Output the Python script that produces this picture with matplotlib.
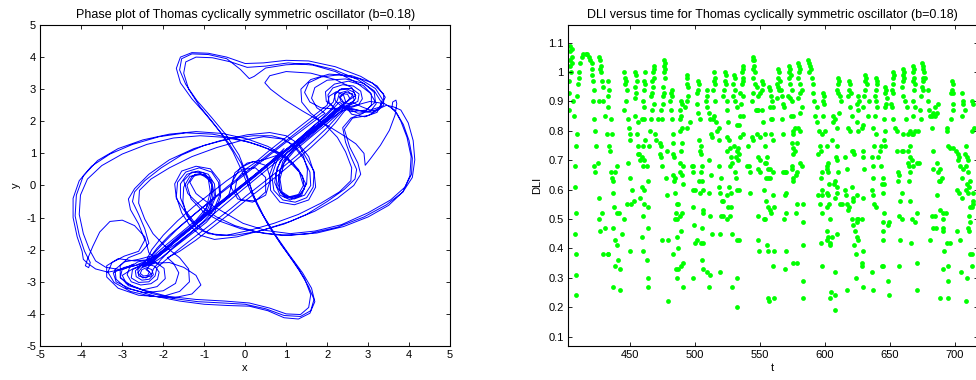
import matplotlib.pyplot as plt

plt.rcParams['font.family'] = ['Liberation Sans', 'DejaVu Sans']
plt.rcParams['font.size'] = 8
plt.rcParams['axes.unicode_minus'] = False

# phase plot: path (x, y)
trajectory = [
    # lower-left inner spiral
    (-2.42, -2.62), (-2.34, -2.7), (-2.38, -2.8), (-2.48, -2.82), (-2.56, -2.74), (-2.52, -2.62), (-2.4, -2.56),
    (-2.28, -2.62), (-2.24, -2.78), (-2.34, -2.92), (-2.52, -2.95), (-2.66, -2.84), (-2.68, -2.66), (-2.56, -2.5),
    (-2.38, -2.45), (-2.2, -2.52), (-2.1, -2.7), (-2.14, -2.92), (-2.3, -3.06), (-2.55, -3.1), (-2.78, -3.0),
    (-2.88, -2.78), (-2.82, -2.55), (-2.62, -2.38), (-2.38, -2.32),
    # diagonal up
    (-2.1, -2.12), (-1.7, -1.72), (-1.3, -1.32), (-0.9, -0.9), (-0.5, -0.48), (-0.1, -0.05), (0.3, 0.36),
    (0.7, 0.78), (1.1, 1.2), (1.5, 1.62), (1.85, 1.98), (2.15, 2.28), (2.35, 2.5),
    # upper-right inner spiral
    (2.48, 2.6), (2.55, 2.72), (2.5, 2.84), (2.38, 2.86), (2.3, 2.76), (2.34, 2.62), (2.46, 2.54), (2.62, 2.58),
    (2.7, 2.72), (2.66, 2.9), (2.5, 3.0), (2.3, 2.98), (2.18, 2.84), (2.2, 2.64), (2.34, 2.48), (2.56, 2.42),
    (2.76, 2.5), (2.86, 2.7), (2.82, 2.94), (2.64, 3.1), (2.38, 3.14), (2.14, 3.04), (2.02, 2.82), (2.05, 2.58),
    (2.2, 2.38),
    # diagonal down
    (2.0, 2.12), (1.7, 1.8), (1.35, 1.42), (0.95, 1.02), (0.55, 0.6), (0.15, 0.18), (-0.25, -0.22), (-0.65, -0.62),
    (-1.05, -1.02), (-1.45, -1.45), (-1.8, -1.85), (-2.1, -2.2), (-2.28, -2.42),
    # lower-left rings, left side up, upper edge, right lobe
    (-2.4, -2.6), (-2.3, -2.75), (-2.42, -2.88), (-2.6, -2.82), (-2.62, -2.62), (-2.48, -2.42), (-2.2, -2.38),
    (-1.98, -2.58), (-1.95, -2.9), (-2.15, -3.15), (-2.5, -3.25), (-2.85, -3.12), (-3.05, -2.85), (-3.05, -2.5),
    (-2.85, -2.25), (-2.55, -2.1), (-2.35, -1.8), (-2.45, -1.35), (-2.6, -0.9), (-2.75, -0.5), (-2.7, -0.2),
    (-2.45, 0.15), (-2.05, 0.55), (-1.55, 0.95), (-1.0, 1.25), (-0.4, 1.45), (0.2, 1.55), (0.65, 1.55),
    (0.95, 1.45), (1.2, 1.2), (1.42, 0.85), (1.58, 0.42), (1.6, 0.0), (1.45, -0.3), (1.2, -0.42), (0.95, -0.35),
    (0.78, -0.05), (0.75, 0.35), (0.85, 0.75), (1.05, 1.05), (1.35, 1.35), (1.7, 1.72), (2.05, 2.1), (2.3, 2.38),
    # upper-right rings, right side down, lower edge, left lobe
    (2.42, 2.56), (2.32, 2.74), (2.44, 2.9), (2.62, 2.86), (2.66, 2.66), (2.5, 2.44), (2.2, 2.4), (1.98, 2.62),
    (1.96, 2.92), (2.18, 3.16), (2.52, 3.25), (2.88, 3.12), (3.08, 2.85), (3.08, 2.5), (2.88, 2.25), (2.58, 2.1),
    (2.38, 1.8), (2.45, 1.35), (2.58, 0.9), (2.72, 0.5), (2.68, 0.2), (2.42, -0.12), (2.0, -0.5), (1.5, -0.9),
    (0.95, -1.2), (0.35, -1.42), (-0.25, -1.55), (-0.7, -1.55), (-1.0, -1.42), (-1.22, -1.18), (-1.45, -0.8),
    (-1.58, -0.38), (-1.58, 0.05), (-1.42, 0.35), (-1.15, 0.45), (-0.9, 0.35), (-0.75, 0.05), (-0.72, -0.35),
    (-0.85, -0.75), (-1.05, -1.05), (-1.35, -1.38), (-1.7, -1.75), (-2.05, -2.1), (-2.3, -2.4),
    # lower-left outer rings, left side up, upper edge, right lobe
    (-2.5, -2.55), (-2.2, -2.42), (-1.85, -2.4), (-1.5, -2.55), (-1.2, -2.8), (-1.08, -3.1), (-1.3, -3.38),
    (-1.75, -3.5), (-2.3, -3.45), (-2.8, -3.3), (-3.2, -3.02), (-3.35, -2.7), (-3.25, -2.4), (-2.95, -2.2),
    (-2.6, -2.05), (-2.45, -1.7), (-2.6, -1.2), (-2.8, -0.75), (-2.85, -0.42), (-2.7, -0.1), (-2.35, 0.35),
    (-1.85, 0.8), (-1.25, 1.15), (-0.6, 1.4), (0.05, 1.58), (0.6, 1.65), (1.0, 1.55), (1.3, 1.3), (1.55, 0.9),
    (1.68, 0.4), (1.66, -0.05), (1.5, -0.38), (1.22, -0.52), (0.92, -0.45), (0.7, -0.15), (0.65, 0.3), (0.78, 0.8),
    (1.0, 1.12), (1.3, 1.42), (1.62, 1.75), (1.95, 2.05), (2.25, 2.3),
    # upper-right outer rings, right side down, lower edge, left lobe
    (2.5, 2.5), (2.2, 2.38), (1.85, 2.42), (1.58, 2.6), (1.45, 2.9), (1.55, 3.2), (1.85, 3.38), (2.3, 3.45),
    (2.8, 3.32), (3.18, 3.02), (3.35, 2.68), (3.28, 2.38), (3.0, 2.18), (2.62, 2.1), (2.42, 1.75), (2.55, 1.2),
    (2.75, 0.7), (2.82, 0.35), (2.65, 0.0), (2.25, -0.4), (1.7, -0.8), (1.1, -1.12), (0.45, -1.38), (-0.2, -1.6),
    (-0.75, -1.68), (-1.1, -1.55), (-1.35, -1.25), (-1.55, -0.85), (-1.68, -0.35), (-1.65, 0.1), (-1.45, 0.42),
    (-1.12, 0.55), (-0.82, 0.42), (-0.65, 0.1), (-0.62, -0.3), (-0.78, -0.8), (-1.02, -1.12), (-1.32, -1.45),
    (-1.65, -1.78), (-1.98, -2.08), (-2.28, -2.35),
    # bottom loop, centre, top loop
    (-2.62, -2.48), (-2.95, -2.55), (-3.22, -2.72), (-3.15, -3.0), (-2.8, -3.22), (-2.2, -3.45), (-1.6, -3.6),
    (-1.0, -3.7), (-0.4, -3.74), (0.1, -3.76), (0.55, -3.9), (0.95, -4.12), (1.3, -4.16), (1.58, -3.98),
    (1.7, -3.62), (1.62, -3.2), (1.4, -2.72), (1.1, -2.2), (0.78, -1.62), (0.45, -0.95), (0.2, -0.3), (0.05, 0.3),
    (-0.15, 0.95), (-0.45, 1.55), (-0.82, 2.12), (-1.18, 2.65), (-1.45, 3.15), (-1.6, 3.6), (-1.55, 3.95),
    (-1.3, 4.1), (-0.9, 4.08), (-0.45, 3.95), (-0.12, 3.62), (0.1, 3.33), (0.22, 3.4), (0.5, 3.66), (1.0, 3.76),
    (1.55, 3.8), (2.15, 3.62), (2.75, 3.3), (3.15, 2.95), (3.33, 2.58), (3.22, 2.28), (2.92, 2.14), (2.6, 2.22),
    (2.45, 2.45),
    # top loop, centre, bottom loop (second pass)
    (2.6, 2.6), (2.85, 2.45), (3.05, 2.35), (3.3, 2.45), (3.42, 2.75), (3.22, 3.1), (2.82, 3.4), (2.2, 3.7),
    (1.55, 3.88), (1.0, 3.9), (0.45, 3.82), (0.0, 3.8), (-0.45, 4.0), (-0.9, 4.12), (-1.3, 4.14), (-1.58, 4.0),
    (-1.68, 3.65), (-1.58, 3.2), (-1.3, 2.7), (-0.95, 2.2), (-0.6, 1.65), (-0.3, 1.05), (-0.08, 0.45),
    (0.12, -0.15), (0.35, -0.75), (0.65, -1.4), (1.0, -2.05), (1.32, -2.65), (1.55, -3.15), (1.68, -3.55),
    (1.6, -3.9), (1.35, -4.08), (0.95, -4.05), (0.5, -3.84), (0.0, -3.7), (-0.55, -3.66), (-1.15, -3.62),
    (-1.75, -3.52), (-2.3, -3.36), (-2.75, -3.14), (-3.05, -2.88), (-3.0, -2.6), (-2.72, -2.45),
    # outer upper-left band
    (-2.95, -2.6), (-3.35, -2.7), (-3.65, -2.6), (-3.85, -2.42), (-3.95, -2.3), (-3.98, -2.05), (-4.1, -1.6),
    (-4.2, -1.0), (-4.2, -0.4), (-4.05, 0.15), (-3.75, 0.6), (-3.3, 0.98), (-2.75, 1.28), (-2.1, 1.52),
    (-1.45, 1.64), (-0.8, 1.6), (-0.2, 1.45), (0.35, 1.25), (0.8, 1.02), (1.15, 0.72), (1.4, 0.3), (1.45, -0.1),
    (1.28, -0.35), (1.02, -0.38), (0.85, -0.15), (0.82, 0.3), (0.92, 0.75), (1.15, 1.1), (1.5, 1.5), (1.88, 1.92),
    (2.2, 2.25),
    # inner top strand, spike, right hook, outer right band
    (2.4, 2.55), (2.7, 2.8), (2.6, 3.05), (2.2, 3.3), (1.6, 3.5), (1.0, 3.55), (0.6, 3.42), (0.48, 3.2),
    (0.62, 3.0), (0.95, 2.68), (1.4, 2.32), (1.9, 1.95), (2.35, 1.6), (2.7, 1.3), (2.9, 1.0), (2.93, 0.63),
    (3.05, 0.82), (3.3, 1.25), (3.52, 1.72), (3.66, 2.2), (3.7, 2.55), (3.68, 2.66), (3.6, 2.6), (3.58, 2.4),
    (3.7, 2.25), (3.86, 1.9), (4.0, 1.4), (4.08, 0.85), (4.06, 0.35), (3.9, -0.05), (3.55, -0.45), (3.0, -0.85),
    (2.35, -1.22), (1.7, -1.42), (1.1, -1.5), (0.5, -1.4), (-0.05, -1.18), (-0.5, -0.85), (-0.9, -0.55),
    (-1.2, -0.25), (-1.35, 0.1), (-1.22, 0.35), (-0.98, 0.32), (-0.82, 0.05), (-0.8, -0.4), (-0.95, -0.85),
    (-1.2, -1.2), (-1.55, -1.55), (-1.9, -1.92), (-2.2, -2.25),
    # lower-left bump and tip, outer upper-left band again
    (-2.35, -2.1), (-2.45, -1.6), (-2.7, -1.25), (-3.0, -1.08), (-3.3, -1.12), (-3.55, -1.45), (-3.72, -1.9),
    (-3.85, -2.3), (-3.9, -2.5), (-3.82, -2.56), (-3.78, -2.4), (-3.92, -2.05), (-4.05, -1.55), (-4.15, -0.95),
    (-4.12, -0.3), (-3.95, 0.3), (-3.6, 0.78), (-3.1, 1.15), (-2.5, 1.42), (-1.85, 1.6), (-1.2, 1.68),
    (-0.55, 1.62), (0.05, 1.45), (0.55, 1.22), (1.0, 0.9), (1.3, 0.5), (1.48, 0.05), (1.38, -0.3), (1.1, -0.45),
    (0.85, -0.3), (0.72, 0.1), (0.78, 0.55), (0.98, 0.98), (1.3, 1.32), (1.7, 1.7), (2.05, 2.05), (2.35, 2.32),
    # outer right band again
    (2.6, 2.4), (2.9, 2.3), (3.2, 2.35), (3.45, 2.5), (3.62, 2.45), (3.8, 2.35), (3.98, 1.95), (4.1, 1.4),
    (4.14, 0.8), (4.08, 0.25), (3.85, -0.2), (3.45, -0.6), (2.9, -0.98), (2.25, -1.3), (1.55, -1.5), (0.9, -1.56),
    (0.3, -1.45), (-0.25, -1.25), (-0.7, -0.98), (-1.08, -0.65), (-1.4, -0.25), (-1.5, 0.15), (-1.3, 0.42),
    (-1.02, 0.4), (-0.82, 0.15), (-0.75, -0.3), (-0.88, -0.78), (-1.12, -1.12), (-1.5, -1.5), (-1.88, -1.88),
    (-2.2, -2.22), (-2.45, -2.48),
    # centre rings
    (-2.2, -2.3), (-1.95, -1.98), (-1.55, -1.55), (-1.15, -1.1), (-0.75, -0.7), (-0.4, -0.3), (-0.3, 0.15),
    (-0.12, 0.55), (0.2, 0.75), (0.52, 0.62), (0.62, 0.2), (0.5, -0.3), (0.18, -0.52), (-0.18, -0.42),
    (-0.35, -0.05), (-0.25, 0.4), (0.05, 0.7), (0.45, 0.8), (0.8, 0.95), (1.2, 1.3), (1.6, 1.68), (1.95, 2.02),
    (2.25, 2.35),
    # more diagonal strands
    (2.5, 2.62), (2.62, 2.8), (2.5, 2.95), (2.3, 2.88), (2.25, 2.65), (2.1, 2.38), (1.8, 2.0), (1.4, 1.55),
    (1.0, 1.12), (0.6, 0.72), (0.2, 0.3), (-0.2, -0.12), (-0.6, -0.55), (-1.0, -0.98), (-1.4, -1.4),
    (-1.75, -1.78), (-2.05, -2.12), (-2.25, -2.38), (-2.5, -2.52), (-2.62, -2.72), (-2.5, -2.88), (-2.3, -2.82),
    (-2.24, -2.6), (-2.05, -2.3), (-1.75, -1.92), (-1.35, -1.5), (-0.95, -1.08), (-0.55, -0.65), (-0.15, -0.22),
    (0.25, 0.2), (0.65, 0.62), (1.05, 1.05), (1.45, 1.48), (1.8, 1.85), (2.1, 2.2), (2.32, 2.45),
    # upper-right ring, diagonal down (upper side of the bundle)
    (2.6, 2.3), (2.95, 2.35), (3.18, 2.6), (3.15, 2.9), (2.9, 3.18), (2.45, 3.32), (2.0, 3.28), (1.7, 3.05),
    (1.62, 2.72), (1.75, 2.42), (1.95, 2.25), (1.7, 2.02), (1.35, 1.68), (0.95, 1.3), (0.55, 0.9), (0.15, 0.5),
    (-0.25, 0.1), (-0.65, -0.3), (-1.05, -0.7), (-1.45, -1.12), (-1.85, -1.55), (-2.15, -1.95), (-2.3, -2.2),
    # lower-left ring, diagonal up (lower side of the bundle)
    (-2.6, -2.3), (-2.95, -2.38), (-3.18, -2.62), (-3.15, -2.92), (-2.9, -3.2), (-2.45, -3.34), (-2.0, -3.28),
    (-1.7, -3.05), (-1.62, -2.72), (-1.75, -2.42), (-1.9, -2.25), (-1.6, -2.05), (-1.2, -1.7), (-0.8, -1.3),
    (-0.4, -0.9), (0.0, -0.48), (0.4, -0.08), (0.8, 0.32), (1.2, 0.75), (1.6, 1.18), (1.95, 1.6), (2.2, 1.95),
    (2.38, 2.25),
    # small rings and two more bundle strands
    (2.55, 2.5), (2.75, 2.62), (2.78, 2.85), (2.6, 3.02), (2.35, 3.02), (2.2, 2.85), (2.15, 2.6), (1.9, 2.3),
    (1.55, 1.95), (1.15, 1.55), (0.75, 1.15), (0.35, 0.75), (-0.05, 0.35), (-0.45, -0.05), (-0.85, -0.48),
    (-1.25, -0.9), (-1.65, -1.35), (-2.0, -1.8), (-2.25, -2.15),
    (-2.55, -2.5), (-2.75, -2.62), (-2.78, -2.88), (-2.6, -3.02), (-2.35, -3.0), (-2.2, -2.82), (-2.15, -2.55),
    (-1.9, -2.28), (-1.55, -1.92), (-1.15, -1.52), (-0.75, -1.12), (-0.35, -0.72), (0.05, -0.3), (0.45, 0.1),
    (0.85, 0.5), (1.25, 0.92), (1.65, 1.38), (2.0, 1.8), (2.25, 2.15), (2.45, 2.4),
    # wide upper-right ring, right side, lower edge, left lobe
    (2.7, 2.35), (3.1, 2.28), (3.38, 2.5), (3.38, 2.85), (3.1, 3.2), (2.6, 3.42), (2.05, 3.47), (1.6, 3.3),
    (1.36, 3.0), (1.38, 2.6), (1.6, 2.25), (1.95, 1.9), (2.25, 1.5), (2.45, 1.05), (2.6, 0.55), (2.58, 0.15),
    (2.3, -0.2), (1.85, -0.55), (1.3, -0.9), (0.7, -1.18), (0.1, -1.4), (-0.45, -1.55), (-0.9, -1.5),
    (-1.2, -1.3), (-1.42, -0.95), (-1.52, -0.5), (-1.5, -0.05), (-1.35, 0.28), (-1.1, 0.38), (-0.88, 0.25),
    (-0.8, -0.05), (-0.85, -0.45), (-1.0, -0.85), (-1.25, -1.2), (-1.6, -1.55), (-1.95, -1.95), (-2.25, -2.3),
    # wide lower-left ring, left side, upper edge, right lobe
    (-2.7, -2.35), (-3.1, -2.28), (-3.38, -2.5), (-3.38, -2.85), (-3.1, -3.2), (-2.6, -3.42), (-2.05, -3.47),
    (-1.6, -3.3), (-1.36, -3.0), (-1.38, -2.6), (-1.6, -2.25), (-1.95, -1.9), (-2.25, -1.5), (-2.45, -1.05),
    (-2.6, -0.55), (-2.58, -0.15), (-2.3, 0.2), (-1.85, 0.55), (-1.3, 0.9), (-0.7, 1.18), (-0.1, 1.4),
    (0.45, 1.52), (0.9, 1.45), (1.2, 1.25), (1.42, 0.92), (1.52, 0.5), (1.5, 0.05), (1.35, -0.28), (1.1, -0.38),
    (0.88, -0.25), (0.8, 0.05), (0.85, 0.45), (1.0, 0.85), (1.25, 1.2), (1.6, 1.55), (1.95, 1.95), (2.25, 2.3),
    # upper-right ring, diagonal through the centre ring
    (2.45, 2.62), (2.4, 2.82), (2.22, 2.92), (2.05, 2.78), (2.0, 2.5), (1.75, 2.25), (1.4, 1.9), (1.0, 1.5),
    (0.6, 1.1), (0.25, 0.72), (0.0, 0.5), (-0.2, 0.2), (-0.25, -0.15), (-0.1, -0.45), (0.25, -0.48), (0.5, -0.2),
    (0.5, 0.25), (0.25, 0.55), (-0.05, 0.5), (-0.45, 0.15), (-0.85, -0.25), (-1.25, -0.65), (-1.65, -1.1),
    (-2.0, -1.55), (-2.28, -2.0), (-2.42, -2.35),
    # outer upper-left band, inner strand
    (-2.7, -2.5), (-3.05, -2.62), (-3.4, -2.55), (-3.65, -2.35), (-3.8, -2.0), (-3.95, -1.5), (-4.05, -0.9),
    (-4.02, -0.3), (-3.85, 0.2), (-3.5, 0.62), (-3.0, 0.98), (-2.4, 1.28), (-1.75, 1.48), (-1.1, 1.55),
    (-0.5, 1.5), (0.1, 1.35), (0.6, 1.12), (1.02, 0.82), (1.32, 0.42), (1.42, 0.0), (1.3, -0.28), (1.08, -0.35),
    (0.9, -0.2), (0.85, 0.2), (0.95, 0.7), (1.2, 1.08), (1.55, 1.45), (1.9, 1.82), (2.2, 2.15), (2.42, 2.42),
    # outer right band, inner strand
    (2.7, 2.5), (3.05, 2.62), (3.4, 2.55), (3.65, 2.35), (3.8, 2.0), (3.95, 1.5), (4.05, 0.9), (4.02, 0.3),
    (3.85, -0.2), (3.5, -0.62), (3.0, -0.98), (2.4, -1.28), (1.75, -1.48), (1.1, -1.55), (0.5, -1.5),
    (-0.1, -1.35), (-0.6, -1.12), (-1.02, -0.82), (-1.32, -0.42), (-1.42, 0.0), (-1.3, 0.28), (-1.08, 0.35),
    (-0.9, 0.2), (-0.85, -0.2), (-0.95, -0.7), (-1.2, -1.08), (-1.55, -1.45), (-1.9, -1.82), (-2.2, -2.15),
    (-2.42, -2.42),
    # bottom loop, centre, top loop (inner strands)
    (-2.75, -2.6), (-3.0, -2.8), (-2.9, -3.05), (-2.5, -3.25), (-1.9, -3.45), (-1.2, -3.55), (-0.5, -3.6),
    (0.1, -3.66), (0.6, -3.82), (1.0, -4.0), (1.35, -4.02), (1.55, -3.8), (1.6, -3.4), (1.45, -2.9), (1.2, -2.4),
    (0.88, -1.85), (0.55, -1.2), (0.28, -0.55), (0.1, 0.05), (-0.1, 0.7), (-0.4, 1.32), (-0.75, 1.9),
    (-1.1, 2.45), (-1.38, 3.0), (-1.5, 3.5), (-1.45, 3.85), (-1.2, 4.0), (-0.8, 3.98), (-0.35, 3.85),
    (0.05, 3.68), (0.5, 3.72), (1.05, 3.82), (1.65, 3.75), (2.2, 3.55), (2.7, 3.22), (3.05, 2.88), (3.2, 2.55),
    (3.05, 2.3), (2.75, 2.25), (2.5, 2.4),
    # larger lobes on both sides
    (2.3, 2.6), (2.0, 2.2), (1.6, 1.78), (1.25, 1.38), (1.45, 0.95), (1.68, 0.45), (1.72, -0.05), (1.55, -0.45),
    (1.2, -0.6), (0.85, -0.52), (0.62, -0.15), (0.6, 0.35), (0.75, 0.85), (0.95, 1.15), (0.6, 0.72), (0.2, 0.3),
    (-0.2, -0.1), (-0.6, -0.5), (-1.0, -0.9), (-1.25, -1.2), (-1.45, -0.85), (-1.68, -0.4), (-1.72, 0.05),
    (-1.55, 0.45), (-1.2, 0.6), (-0.85, 0.52), (-0.62, 0.15), (-0.6, -0.35), (-0.75, -0.85), (-0.95, -1.15),
    (-1.3, -1.5), (-1.7, -1.9), (-2.05, -2.25), (-2.35, -2.5),
]

# DLI samples (t, DLI)
dli_points = [
    (403.9, 1.09), (405.1, 1.08), (403.9, 1.07), (405.4, 1.05), (403.9, 1.04), (405.1, 1.03), (403.9, 1.02),
    (404.6, 1.00), (402.6, 0.97), (402.8, 0.93), (402.6, 0.87), (406.4, 0.90), (406.9, 0.85), (409.0, 0.79),
    (408.5, 0.75), (407.7, 0.68), (407.7, 0.61), (408.2, 0.52), (407.7, 0.45), (408.2, 0.38), (408.2, 0.31),
    (408.2, 0.24), (410.3, 1.00), (410.5, 0.98), (409.8, 0.96), (409.5, 0.92),
    (411.6, 1.03), (412.6, 1.05), (414.1, 1.06), (415.7, 1.06), (417.2, 1.06), (418.5, 1.05), (419.5, 1.04),
    (420.3, 1.03), (420.8, 1.01), (421.0, 0.99), (421.6, 0.97), (422.3, 0.94), (421.8, 0.90), (422.3, 0.84),
    (423.1, 0.80), (423.6, 0.75), (422.3, 0.68), (423.1, 0.66), (424.9, 0.69), (425.7, 0.57), (425.9, 0.50),
    (428.2, 0.52), (427.0, 0.46), (429.5, 0.38), (433.3, 0.38),
    (426.4, 1.05), (426.9, 1.04), (427.5, 1.02), (426.9, 1.01), (427.7, 1.00), (428.2, 0.97), (429.0, 0.95),
    (426.4, 0.90), (429.5, 0.90), (430.8, 0.85), (432.1, 0.79), (434.1, 0.75),
    (433.3, 0.97), (433.9, 0.94), (432.6, 0.92), (433.3, 0.88), (435.1, 0.84), (435.9, 0.79), (434.6, 0.73),
    (435.1, 0.66), (435.9, 0.64), (436.7, 0.63), (438.5, 0.66), (439.8, 0.68), (437.2, 0.59), (437.7, 0.54),
    (439.8, 0.52), (441.8, 0.52), (437.2, 0.47), (438.5, 0.43), (439.8, 0.41), (438.5, 0.34), (437.2, 0.27),
    (442.3, 0.26), (442.3, 0.33), (440.3, 0.36), (432.6, 0.38), (430.8, 0.47),
    (445.4, 1.00), (446.2, 0.98), (446.9, 0.97), (446.2, 0.96), (447.5, 0.94), (446.9, 0.90), (444.9, 0.87),
    (448.0, 0.84), (449.5, 0.81), (450.0, 0.79), (450.0, 0.77), (448.7, 0.69), (450.0, 0.64), (451.3, 0.60),
    (452.6, 0.56), (450.8, 0.55), (450.0, 0.39), (443.6, 0.45), (444.9, 0.50), (447.5, 0.55),
    (453.9, 1.00), (454.6, 0.99), (455.1, 0.97), (453.9, 0.95), (454.6, 0.93), (453.9, 0.91), (454.1, 0.85),
    (455.1, 0.79), (456.4, 0.83), (455.7, 0.75), (456.4, 0.72), (457.2, 0.72), (457.7, 0.70), (457.7, 0.57),
    (461.5, 1.00), (461.0, 0.97), (461.5, 0.96), (460.3, 0.94), (459.8, 0.90), (460.3, 0.88), (459.0, 0.84),
    (460.8, 0.84), (461.5, 0.77), (459.8, 0.75), (459.0, 0.71), (460.3, 0.70), (459.8, 0.68), (460.8, 0.60),
    (459.0, 0.61), (460.3, 0.55), (459.8, 0.51), (459.0, 0.44), (459.8, 0.39), (464.1, 0.47), (464.1, 0.54),
    (464.1, 0.63), (463.3, 0.68), (464.1, 0.30), (464.1, 0.27), (462.8, 0.36),
    (468.0, 1.02), (468.5, 1.01), (467.4, 1.00), (468.0, 0.98), (466.7, 0.97), (467.4, 0.95), (466.7, 0.93),
    (465.9, 0.92), (468.0, 0.89), (466.7, 0.87), (465.9, 0.84), (465.4, 0.80), (464.9, 0.75), (469.2, 0.79),
    (470.0, 0.77),
    (476.2, 1.04), (476.9, 1.03), (476.2, 1.02), (476.9, 1.01), (476.4, 1.00), (476.9, 0.98), (475.6, 0.95),
    (476.2, 0.93), (475.1, 0.92), (475.6, 0.89), (473.6, 0.87), (471.8, 0.84), (474.4, 0.84), (472.6, 0.76),
    (473.6, 0.75), (472.6, 0.72), (473.6, 0.71), (474.4, 0.68), (474.4, 0.43), (479.5, 0.43), (478.2, 0.58),
    (477.7, 0.64), (478.7, 0.73),
    (482.1, 0.94), (481.3, 0.93), (482.1, 0.92), (480.8, 0.90), (481.3, 0.87), (482.1, 0.84), (483.3, 0.79),
    (482.8, 0.76), (483.3, 0.72), (483.9, 0.71), (483.3, 0.65), (484.6, 0.64), (483.9, 0.63), (484.6, 0.59),
    (485.9, 0.55), (485.4, 0.52), (484.6, 0.50), (486.4, 0.50), (487.2, 0.55), (486.4, 0.44), (487.2, 0.40),
    (483.3, 0.38), (485.4, 0.33), (485.9, 0.30), (479.5, 0.22), (487.2, 0.33), (489.0, 0.34), (490.3, 0.35),
    (491.0, 0.27),
    (489.0, 0.90), (489.8, 0.89), (488.5, 0.87), (489.0, 0.85), (488.0, 0.84), (489.8, 0.81), (488.5, 0.80),
    (489.8, 0.76), (489.0, 0.73), (488.5, 0.69), (491.0, 0.68), (488.0, 0.66), (489.8, 0.65), (491.0, 0.62),
    (489.8, 0.52), (488.0, 0.51), (489.0, 0.46),
    (493.6, 0.99), (494.1, 0.98), (493.6, 0.96), (494.9, 0.95), (494.4, 0.92), (493.6, 0.90), (492.3, 0.88),
    (493.6, 0.81), (496.2, 0.83), (497.4, 0.68), (498.7, 0.68), (498.7, 0.66), (498.2, 0.60), (500.0, 0.60),
    (498.7, 0.54), (499.2, 0.48), (500.0, 0.42), (501.3, 0.43), (498.2, 0.30),
    (502.6, 0.97), (503.3, 0.96), (502.6, 0.94), (501.8, 0.93), (501.3, 0.89), (502.6, 0.86), (503.9, 0.84),
    (503.3, 0.77), (504.4, 0.75), (503.9, 0.73), (504.9, 0.72), (505.1, 0.68), (504.6, 0.66), (505.1, 0.63),
    (503.3, 0.63), (506.4, 0.60), (503.9, 0.59), (505.9, 0.53), (506.4, 0.52), (505.1, 0.47), (504.4, 0.42),
    (506.4, 0.42), (505.6, 0.36), (505.9, 0.33),
    (509.0, 0.94), (509.5, 0.92), (508.5, 0.90), (509.5, 0.88), (510.3, 0.86), (511.5, 0.84), (512.1, 0.79),
    (512.8, 0.78), (510.3, 0.70), (512.1, 0.65), (510.3, 0.59), (511.5, 0.51), (512.8, 0.45), (511.5, 0.31),
    (511.0, 0.27), (509.0, 0.32),
    (514.6, 1.00), (515.4, 0.98), (514.6, 0.97), (515.4, 0.96), (514.1, 0.94), (515.4, 0.90), (514.6, 0.85),
    (513.6, 0.84), (516.2, 0.83), (516.7, 0.80), (518.2, 0.81), (518.7, 0.77), (518.2, 0.68), (519.8, 0.64),
    (518.7, 0.61), (519.2, 0.59), (520.5, 0.56), (521.3, 0.56), (519.8, 0.51), (521.3, 0.51), (519.2, 0.45),
    (519.2, 0.32),
    (523.1, 1.00), (523.9, 0.99), (523.1, 0.97), (523.9, 0.96), (522.3, 0.94), (521.8, 0.92), (524.4, 0.90),
    (524.9, 0.87), (525.6, 0.83), (524.9, 0.78), (526.4, 0.77), (526.9, 0.74), (524.9, 0.73), (527.4, 0.71),
    (528.2, 0.69), (526.9, 0.68), (526.4, 0.61), (527.4, 0.59), (524.9, 0.58), (525.6, 0.54), (527.4, 0.54),
    (526.9, 0.51), (524.9, 0.50), (528.2, 0.45), (528.2, 0.27),
    (530.0, 0.99), (530.8, 0.98), (529.5, 0.96), (530.3, 0.94), (529.5, 0.92), (530.8, 0.90), (532.1, 0.88),
    (532.1, 0.82), (533.6, 0.82), (530.0, 0.75), (532.1, 0.73), (532.8, 0.74), (531.5, 0.71), (533.3, 0.70),
    (530.8, 0.66), (532.1, 0.60), (533.6, 0.60), (531.5, 0.64), (532.1, 0.43), (533.6, 0.43), (532.6, 0.30),
    (532.6, 0.20),
    (536.7, 1.02), (537.2, 1.01), (535.9, 1.00), (536.7, 0.98), (537.2, 0.97), (535.9, 0.96), (534.6, 0.93),
    (537.2, 0.92), (535.1, 0.89), (534.6, 0.85), (537.2, 0.85), (534.1, 0.72), (536.7, 0.79), (534.6, 0.78),
    (544.9, 1.05), (545.4, 1.04), (544.4, 1.04), (545.4, 1.02), (544.9, 1.01), (546.2, 1.00), (544.9, 0.98),
    (546.2, 0.96), (547.4, 0.95), (544.9, 0.93), (543.6, 0.90), (546.9, 0.87), (543.6, 0.78), (544.9, 0.77),
    (541.0, 0.75), (539.8, 0.68), (541.8, 0.68), (542.3, 0.66), (542.3, 0.59),
    (551.3, 0.97), (552.0, 0.96), (551.3, 0.94), (550.0, 0.93), (548.7, 0.92), (547.4, 0.87), (548.7, 0.87),
    (551.3, 0.87), (552.6, 0.83), (553.8, 0.79), (547.9, 0.79), (550.0, 0.78), (548.7, 0.71), (550.0, 0.70),
    (548.7, 0.67), (550.0, 0.66), (553.8, 0.69), (554.6, 0.69), (555.1, 0.71), (553.8, 0.75), (554.6, 0.64),
    (553.1, 0.60), (554.6, 0.56), (553.8, 0.50), (553.1, 0.50), (548.7, 0.51), (548.7, 0.43), (549.5, 0.39),
    (555.6, 0.41), (556.4, 0.39), (556.4, 0.23), (557.2, 0.22), (560.8, 0.23),
    (557.2, 0.95), (557.7, 0.94), (558.2, 0.92), (559.0, 0.90), (559.7, 0.88), (557.7, 0.88), (558.2, 0.84),
    (559.0, 0.84), (558.2, 0.79), (559.7, 0.77), (556.4, 0.67), (557.7, 0.67), (559.7, 0.66), (556.4, 0.64),
    (557.7, 0.64), (559.7, 0.58), (556.4, 0.54), (557.7, 0.53), (558.2, 0.52), (560.8, 0.54), (560.8, 0.39),
    (560.2, 0.34),
    (564.1, 1.01), (564.9, 1.00), (564.1, 0.98), (565.4, 0.97), (563.3, 0.96), (564.1, 0.95), (564.9, 0.94),
    (566.7, 0.92), (567.9, 0.89), (568.5, 0.88), (565.9, 0.94), (563.3, 0.91), (566.7, 0.84), (567.4, 0.79),
    (567.9, 0.66), (569.2, 0.66), (570.0, 0.66), (570.0, 0.59), (569.2, 0.58), (570.0, 0.52), (568.5, 0.50),
    (569.2, 0.33), (570.0, 0.39),
    (572.6, 1.02), (573.1, 1.01), (572.6, 1.00), (573.6, 0.99), (572.6, 0.98), (573.1, 0.96), (574.4, 0.94),
    (571.8, 0.92), (573.1, 0.91), (574.4, 0.90), (575.6, 0.85), (573.6, 0.85), (575.1, 0.80), (575.6, 0.79),
    (576.9, 0.81), (574.4, 0.76), (575.6, 0.74), (576.9, 0.73), (575.6, 0.72), (574.4, 0.68), (575.1, 0.64),
    (575.6, 0.63), (574.4, 0.67), (577.7, 0.65), (578.2, 0.66), (578.2, 0.55), (577.7, 0.52), (575.1, 0.35),
    (578.7, 0.35),
    (579.5, 1.03), (580.3, 1.02), (580.8, 1.01), (580.3, 1.00), (579.5, 0.98), (580.8, 0.96), (582.0, 0.94),
    (580.8, 0.93), (579.5, 0.91), (582.0, 0.88), (580.8, 0.86), (579.5, 0.81), (580.8, 0.80), (578.2, 0.76),
    (580.8, 0.69), (582.0, 0.68), (582.8, 0.55), (583.3, 0.49), (582.8, 0.41), (583.3, 0.29), (583.3, 0.23),
    (587.2, 1.04), (587.9, 1.03), (588.5, 1.02), (589.0, 1.01), (587.9, 1.00), (589.7, 0.98), (591.0, 0.96),
    (590.5, 0.93), (591.5, 0.90), (593.6, 0.88), (592.3, 0.85), (593.6, 0.83), (597.4, 0.79), (595.6, 0.80),
    (596.2, 0.75), (594.9, 0.72), (596.7, 0.73), (597.4, 0.66), (596.7, 0.64), (597.4, 0.60), (597.4, 0.58),
    (594.9, 0.58), (596.2, 0.55), (597.4, 0.52), (596.7, 0.42), (597.4, 0.34),
    (598.7, 0.93), (599.2, 0.92), (598.7, 0.90), (599.2, 0.89), (598.2, 0.85), (600.0, 0.80), (601.3, 0.75),
    (602.6, 0.69), (601.8, 0.68), (601.3, 0.67), (602.6, 0.66), (603.3, 0.62), (601.8, 0.59), (602.6, 0.58),
    (601.3, 0.54), (603.3, 0.55), (603.8, 0.50), (601.3, 0.46), (602.6, 0.44), (601.8, 0.43), (605.1, 0.44),
    (603.8, 0.42), (603.8, 0.41), (603.8, 0.23), (604.6, 0.25),
    (605.9, 0.85), (606.4, 0.83), (607.7, 0.84), (605.1, 0.77), (609.5, 0.81), (610.2, 0.98), (611.0, 0.97),
    (610.2, 0.96), (609.5, 0.94), (610.2, 0.93), (611.5, 0.92), (612.1, 0.90), (611.0, 0.86), (609.5, 0.75),
    (608.5, 0.71), (609.0, 0.70), (610.2, 0.66), (609.0, 0.61), (609.5, 0.59), (607.7, 0.63), (606.9, 0.62),
    (611.5, 0.55), (612.8, 0.55), (607.7, 0.57), (609.0, 0.45), (607.7, 0.32), (607.7, 0.24), (607.7, 0.19),
    (618.7, 0.97), (619.2, 0.96), (618.7, 0.94), (619.7, 0.93), (617.9, 0.92), (619.2, 0.88), (619.2, 0.80),
    (617.9, 0.81), (620.5, 0.85), (615.4, 0.71), (616.7, 0.67), (615.4, 0.60), (616.2, 0.58), (616.7, 0.55),
    (617.9, 0.53), (618.7, 0.54), (621.3, 0.56), (621.8, 0.57), (620.5, 0.73), (621.8, 0.73), (622.3, 0.72),
    (620.5, 0.61), (620.5, 0.50), (621.8, 0.48), (623.1, 0.46), (624.4, 0.44), (622.3, 0.41), (623.8, 0.38),
    (617.2, 0.26), (623.8, 0.30),
    (625.6, 0.92), (626.4, 0.90), (624.9, 0.89), (625.6, 0.87), (624.9, 0.83), (625.6, 0.80), (624.9, 0.58),
    (625.6, 0.50), (624.9, 0.50), (624.4, 0.49), (625.6, 0.43),
    (630.7, 0.99), (631.5, 0.98), (630.7, 0.97), (632.0, 0.96), (630.7, 0.94), (630.0, 0.92), (629.5, 0.88),
    (629.0, 0.82), (628.2, 0.81), (629.5, 0.73), (629.0, 0.71), (630.0, 0.67), (629.5, 0.57), (628.2, 0.50),
    (629.0, 0.39), (628.2, 0.35), (628.2, 0.34), (629.0, 0.27), (634.1, 0.90), (633.3, 0.85),
    (639.2, 0.98), (639.7, 0.97), (640.2, 0.96), (639.2, 0.94), (638.4, 0.92), (639.2, 0.90), (639.7, 0.88),
    (638.4, 0.85), (637.2, 0.81), (639.2, 0.79), (637.7, 0.75), (635.9, 0.71), (636.6, 0.68), (637.2, 0.64),
    (635.9, 0.60), (637.2, 0.58), (637.7, 0.55), (639.2, 0.54), (635.9, 0.32), (637.2, 0.26),
    (646.1, 0.95), (646.9, 0.94), (646.1, 0.93), (647.4, 0.91), (646.9, 0.89), (646.1, 0.88), (645.4, 0.84),
    (646.1, 0.80), (645.4, 0.77), (646.1, 0.75), (642.8, 0.75), (642.3, 0.73), (641.0, 0.71), (642.8, 0.68),
    (644.9, 0.64), (645.4, 0.62), (643.6, 0.62), (644.3, 0.59), (645.4, 0.52), (644.3, 0.49), (644.9, 0.46),
    (644.3, 0.43), (644.3, 0.34), (643.6, 0.34), (648.7, 0.48), (649.5, 0.49), (648.7, 0.29), (649.5, 0.24),
    (652.5, 1.00), (653.1, 0.99), (652.5, 0.98), (652.0, 0.96), (651.3, 0.94), (652.5, 0.93), (650.5, 0.89),
    (651.3, 0.88), (652.0, 0.84), (653.8, 0.81), (655.6, 0.80), (655.1, 0.73), (656.4, 0.66), (657.2, 0.65),
    (656.4, 0.63), (659.0, 0.59), (657.7, 0.56), (657.2, 0.51), (659.0, 0.50), (657.7, 0.43), (657.2, 0.34),
    (660.2, 1.01), (660.7, 1.00), (659.7, 0.99), (660.7, 0.98), (660.2, 0.97), (659.0, 0.95), (659.7, 0.92),
    (661.5, 0.90), (662.8, 0.88), (662.3, 0.84), (660.2, 0.79), (659.0, 0.73), (660.2, 0.73), (665.4, 0.80),
    (664.1, 0.79), (666.6, 0.79), (667.9, 0.79), (669.2, 0.80), (671.8, 0.80), (665.4, 0.75), (664.1, 0.69),
    (664.8, 0.68), (665.4, 0.66), (666.6, 0.70), (664.8, 0.63), (665.4, 0.56), (670.5, 0.52), (666.6, 0.50),
    (669.2, 0.49), (665.9, 0.42), (671.0, 0.35), (671.0, 0.26), (664.1, 0.73), (665.4, 0.71), (667.9, 0.68),
    (667.9, 1.02), (668.4, 1.01), (667.4, 1.00), (668.4, 0.98), (667.4, 0.97), (669.2, 0.96), (668.4, 0.94),
    (667.9, 0.90), (669.2, 0.88), (667.9, 0.85),
    (674.3, 1.03), (675.1, 1.02), (675.6, 1.01), (676.1, 1.00), (675.1, 0.98), (676.9, 0.98), (675.6, 0.97),
    (674.3, 0.95), (675.6, 0.94), (673.6, 0.92), (673.1, 0.87), (673.6, 0.84), (671.0, 0.69), (672.5, 0.69),
    (679.5, 0.94), (679.5, 0.90), (680.2, 0.87), (680.7, 0.85), (682.0, 0.81), (682.0, 0.85), (683.3, 0.86),
    (684.6, 0.85), (686.4, 0.86), (684.6, 0.88), (687.2, 0.89), (683.3, 0.73), (682.8, 0.67), (685.9, 0.69),
    (687.2, 0.66), (688.4, 0.67), (687.9, 0.63), (689.7, 0.64), (688.4, 0.63), (685.9, 0.58), (688.4, 0.53),
    (691.0, 0.52), (693.1, 0.52), (691.0, 0.50), (684.6, 0.51), (682.0, 0.51), (685.4, 0.47), (683.3, 0.47),
    (690.5, 0.47), (691.0, 0.46), (691.5, 0.39), (691.0, 0.33), (688.4, 0.23), (680.7, 0.43),
    (697.4, 0.97), (698.2, 0.96), (697.4, 0.94), (698.7, 0.93), (696.6, 0.93), (698.2, 0.89), (698.7, 0.87),
    (696.6, 0.84), (694.1, 0.81), (694.1, 0.80), (694.8, 0.75), (696.1, 0.74), (698.2, 0.74), (700.7, 0.73),
    (702.5, 0.72), (703.3, 0.71), (702.5, 0.70), (703.8, 0.68), (706.4, 0.67), (705.1, 0.64), (701.8, 0.60),
    (703.3, 0.59), (705.1, 0.57), (694.1, 0.42), (696.1, 0.42), (701.3, 0.46), (703.8, 0.43), (694.8, 0.34),
    (694.8, 0.29), (694.8, 0.23), (704.3, 0.32),
    (705.1, 0.93), (705.9, 0.90), (706.4, 0.89), (707.7, 0.87), (705.1, 0.85), (708.4, 0.75), (707.7, 0.72),
    (709.5, 0.71), (710.2, 0.70), (708.4, 0.68), (710.2, 0.66), (711.5, 0.63), (709.0, 0.62), (711.0, 0.61),
    (708.4, 0.60), (710.2, 0.59), (711.5, 0.54), (712.8, 0.54), (711.0, 0.51), (710.2, 0.47), (711.0, 0.46),
    (711.5, 0.49), (714.1, 0.55), (713.6, 0.56), (714.1, 0.59), (712.8, 0.90), (713.6, 0.89), (714.6, 0.81),
    (712.8, 0.80), (709.0, 0.30), (708.4, 0.22), (711.5, 0.38), (712.8, 0.38), (712.8, 0.34),
]

phase_x = [p[0] for p in trajectory]
phase_y = [p[1] for p in trajectory]
dli_t = [p[0] for p in dli_points]
dli_v = [p[1] for p in dli_points]

fig = plt.figure(figsize=(9.76, 3.8), dpi=100)
ax1 = fig.add_axes([0.0413, 0.0895, 0.4198, 0.8447])
ax2 = fig.add_axes([0.5817, 0.0895, 0.4199, 0.8447])

ax1.plot(phase_x, phase_y, color='#0000ff', lw=0.7, solid_joinstyle='round')
ax1.set_xlim(-5, 5)
ax1.set_ylim(-5, 5)
ax1.set_xticks(range(-5, 6))
ax1.set_yticks(range(-5, 6))
ax1.set_xlabel('x', labelpad=2)
ax1.set_ylabel('y', labelpad=4)
ax1.set_title('Phase plot of Thomas cyclically symmetric oscillator (b=0.18)', fontsize=9, pad=5)

ax2.scatter(dli_t, dli_v, s=12, c='#00ff00', linewidths=0)
ax2.set_xlim(402, 717.3)
ax2.set_ylim(0.068, 1.16)
ax2.set_xticks([450, 500, 550, 600, 650, 700])
yt = [0.1, 0.2, 0.3, 0.4, 0.5, 0.6, 0.7, 0.8, 0.9, 1.0, 1.1]
ax2.set_yticks(yt)
ax2.set_yticklabels(['%g' % v for v in yt])
ax2.set_xlabel('t', labelpad=2)
ax2.set_ylabel('DLI', labelpad=4)
ax2.set_title('DLI versus time for Thomas cyclically symmetric oscillator (b=0.18)', fontsize=9, pad=5)

for ax in (ax1, ax2):
    ax.tick_params(direction='in', top=True, right=True, length=3, width=0.6, labelsize=8, pad=3)
    for s in ax.spines.values():
        s.set_linewidth(0.8)

fig.savefig('out.png', dpi=100)
